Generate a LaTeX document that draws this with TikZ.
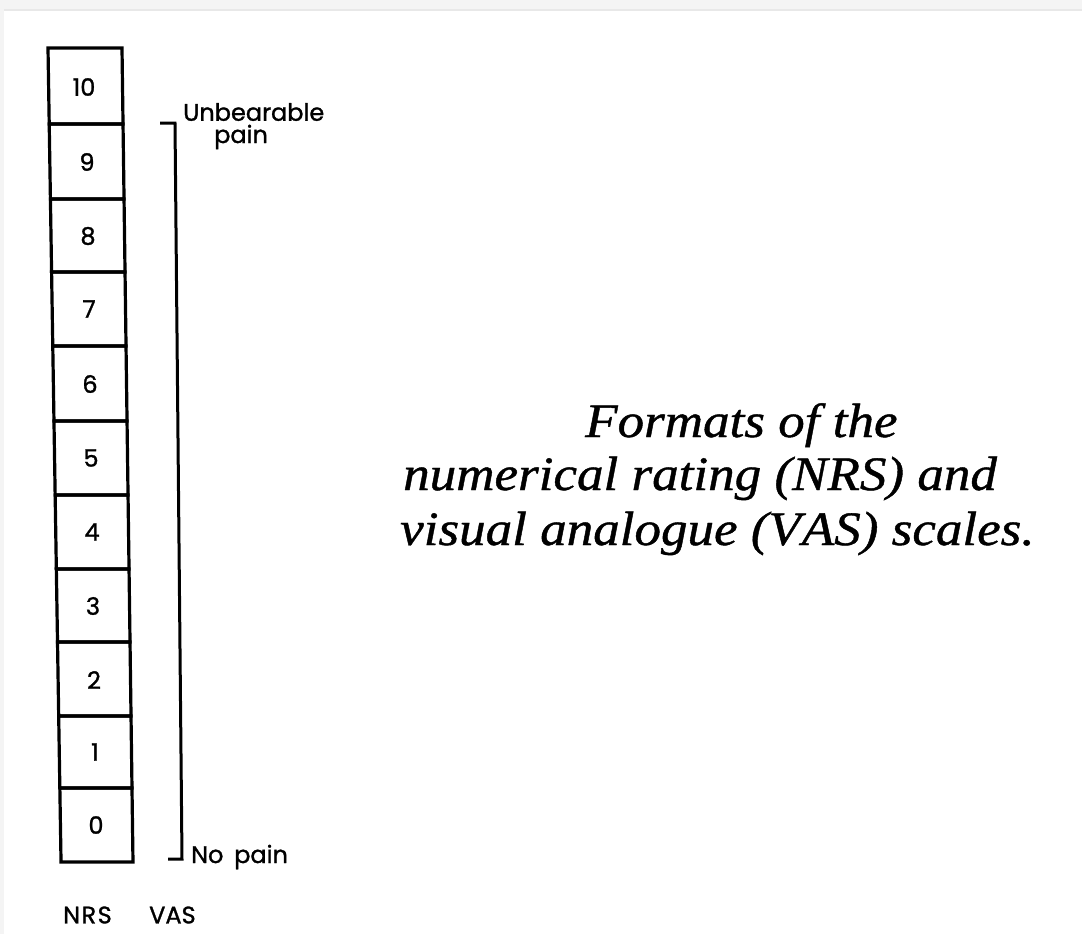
\documentclass[tikz,border=0pt]{standalone}
\usepackage{fontspec}
\newfontfamily\labfont[Script=Latin,FakeBold=1.2]{Poppins}
\newfontfamily\capfont[FakeStretch=1.105,FakeBold=0.9]{Liberation Serif}
\begin{document}
\begin{tikzpicture}[x=1pt,y=-1pt,
  boxline/.style={line width=3.2pt,line join=miter},
  num/.style={font=\labfont\fontsize{24}{24}\selectfont,inner sep=0pt},
  lab/.style={font=\labfont\fontsize{24}{24}\selectfont,inner sep=0pt,anchor=west},
  captxt/.style={font=\capfont\itshape\fontsize{48}{48}\selectfont,inner sep=0pt,anchor=base west}]
\useasboundingbox (0,0) rectangle (1082,934);
\fill[white] (0,0) rectangle (1082,934);
\fill[gray!9] (0,0) rectangle (1082,9);
\draw[gray!18,line width=1.5pt] (4,10) -- (1082,10);
\fill[gray!9] (0,0) rectangle (4,934);
% NRS boxes
\foreach \ya/\yb in {48/124,124/199,199/272,272/346,346/421,421/495,495/569,569/642,642/716,716/788,788/862}{
  \pgfmathsetmacro\xla{48+(\ya-48)*0.016}
  \pgfmathsetmacro\xlb{48+(\yb-48)*0.016}
  \pgfmathsetmacro\xra{122+(\ya-48)*0.0135}
  \pgfmathsetmacro\xrb{122+(\yb-48)*0.0135}
  \draw[boxline] (\xla,\ya) -- (\xra,\ya) -- (\xrb,\yb) -- (\xlb,\yb) -- cycle;
}
\node[num] (n10) at (84,87) {10};
\node[num] (n9) at (87,162) {9};
\node[num] (n8) at (88,236) {8};
\node[num] (n7) at (89,309) {7};
\node[num] (n6) at (90,384) {6};
\node[num] (n5) at (91,458) {5};
\node[num] (n4) at (92,532) {4};
\node[num] (n3) at (93,606) {3};
\node[num] (n2) at (94,680) {2};
\node[num] (n1) at (95,752) {1};
\node[num] (n0) at (96,825) {0};
% VAS line
\coordinate (vt) at (160,123);
\coordinate (vtr) at (175,123);
\coordinate (vbr) at (182,859);
\coordinate (vb) at (168,859);
\draw[line width=3pt,line join=miter] (vt) -- (vtr) -- (vbr) -- (vb);
\node[lab] (unb) at (183,112) {Unbearable};
\node[lab] (pain) at (214,137) {pain};
\node[lab] (nop) at (191,857) {No\hspace{0.45em}pain};
\node[lab] (nrs) at (63,915) {N\kern1.5pt R\kern1.5pt S};
\node[lab] (vas) at (149,915) {VAS};
% caption
\node[captxt] (c1) at (585,437) {Formats of the};
\node[captxt] (c2) at (403,490) {numerical rating (\textit{NRS}) and};
\node[captxt] (c3) at (400,545) {visual analogue (\textit{V\kern1pt AS}) scales.};
\end{tikzpicture}
\end{document}
